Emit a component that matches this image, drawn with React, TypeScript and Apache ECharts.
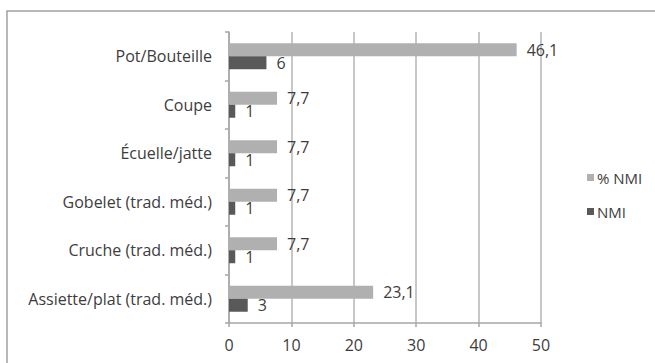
import React, { useEffect, useRef } from "react";
import * as echarts from "echarts";

const categories = [
  "Assiette/plat (trad. méd.)",
  "Cruche (trad. méd.)",
  "Gobelet (trad. méd.)",
  "Écuelle/jatte",
  "Coupe",
  "Pot/Bouteille",
];
const pctNMI = [23.1, 7.7, 7.7, 7.7, 7.7, 46.1];
const nmi = [3, 1, 1, 1, 1, 6];
const xTicks = { min: 0, max: 50, interval: 10 };

const FONT = "Open Sans";
const TXT = "#3d3d3d";
const FS = 16;
const fmt = (p: any) => String(p.value).replace(".", ",");

export default function App() {
  const ref = useRef<HTMLDivElement>(null);
  useEffect(() => {
    const chart = echarts.init(ref.current!, null, { renderer: "svg" });
    const label = {
      show: true,
      position: "right",
      distance: 10,
      formatter: fmt,
      fontFamily: FONT,
      fontSize: FS,
      color: TXT,
    };
    chart.setOption({
      animation: false,
      backgroundColor: "#ffffff",
      textStyle: { fontFamily: FONT },
      graphic: [
        {
          type: "rect",
          shape: { x: 7, y: 11, width: 700, height: 400 },
          style: { fill: "none", stroke: "#a0a0a0", lineWidth: 1.5 },
          silent: true,
        },
      ],
      grid: { left: 229, top: 32, right: 114, bottom: 40 },
      legend: {
        orient: "vertical",
        left: 582,
        top: 165,
        itemWidth: 7,
        itemHeight: 7,
        itemGap: 19,
        icon: "rect",
        data: ["% NMI", "NMI"],
        textStyle: { fontFamily: FONT, fontSize: 15, color: TXT, padding: [0, 0, 0, -2] },
      },
      xAxis: {
        type: "value",
        min: xTicks.min,
        max: xTicks.max,
        interval: xTicks.interval,
        axisLine: { show: true, lineStyle: { color: "#a6a6a6", width: 1.5 } },
        axisTick: { show: true, length: 4, lineStyle: { color: "#a6a6a6", width: 1.5 } },
        axisLabel: { fontFamily: FONT, fontSize: FS, color: TXT, margin: 14 },
        splitLine: { show: true, lineStyle: { color: "#b4b4b4", width: 1.5 } },
      },
      yAxis: {
        type: "category",
        data: categories,
        axisLine: { show: true, lineStyle: { color: "#a6a6a6", width: 1.5 } },
        axisTick: { show: true, length: 4, lineStyle: { color: "#a6a6a6", width: 1.5 } },
        axisLabel: { fontFamily: FONT, fontSize: FS, color: TXT, margin: 17 },
      },
      series: [
        {
          name: "% NMI",
          type: "bar",
          data: pctNMI,
          barWidth: 13,
          barGap: "0%",
          itemStyle: { color: "#b0b0b0" },
          label,
        },
        {
          name: "NMI",
          type: "bar",
          data: nmi,
          barWidth: 13,
          barGap: "0%",
          itemStyle: { color: "#595959" },
          label,
        },
      ],
    });
    return () => chart.dispose();
  }, []);
  return (
    <div
      ref={ref}
      style={{ position: "fixed", left: 0, top: 0, width: 655, height: 363 }}
    />
  );
}
